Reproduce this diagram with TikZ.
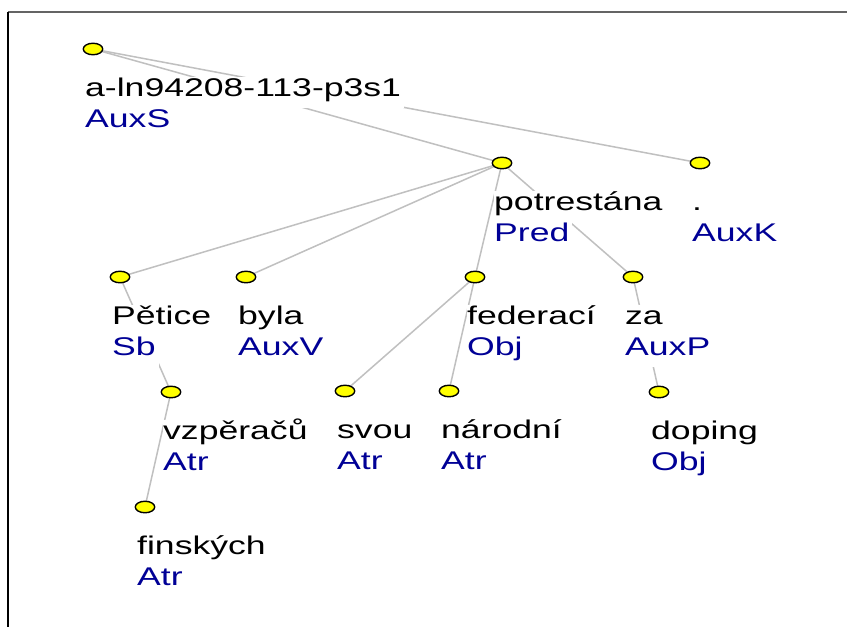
\documentclass[tikz,border=0pt]{standalone}
\usepackage{fontspec}
\setmainfont{Liberation Sans}[FakeStretch=1.39]
\usetikzlibrary{shapes.geometric,backgrounds}
\definecolor{edgegray}{RGB}{192,192,192}
\definecolor{funcblue}{RGB}{0,0,150}
\definecolor{nodeyellow}{RGB}{255,255,0}
\definecolor{framegray}{RGB}{100,100,100}
\tikzset{
  tnode/.style={ellipse, draw=black, line width=1.4pt, fill=nodeyellow,
    minimum width=19.5pt, minimum height=11.5pt, inner sep=0pt},
  wordlabel/.style={anchor=base west, fill=white, inner xsep=0pt, inner ysep=0pt,
    text height=19pt, text depth=12pt, font=\fontsize{25.6}{31}\selectfont, text=black},
  funclabel/.style={wordlabel, text=funcblue},
  treeedge/.style={draw=edgegray, line width=1.5pt},
}
\newcommand\treenode[5]{%
  \node[wordlabel] (#1w) at (#2-8,#3+47) {#4\kern3pt};
  \node[funclabel] (#1f) at (#2-8,#3+78) {#5\kern3pt};
  \node[tnode] (#1) at (#2,#3) {};
}
\begin{document}
\begin{tikzpicture}[x=1pt,y=-1pt]
\useasboundingbox (0,0) rectangle (847,627);
\begin{scope}[on background layer]
\fill[white] (0,0) rectangle (847,627);
\end{scope}
\draw[framegray, line width=1.5pt] (8,12) -- (847,12);
\draw[black, line width=1.2pt] (8,12) -- (8,627);

\treenode{root}{93}{49}{a-ln94208-113-p3s1}{AuxS}
\treenode{pot}{502}{163}{potrestána}{Pred}
\treenode{dot}{700}{163}{.}{AuxK}
\treenode{pet}{120}{277}{Pětice}{Sb}
\treenode{byla}{246}{277}{byla}{AuxV}
\treenode{fed}{475}{277}{federací}{Obj}
\treenode{za}{633}{277}{za}{AuxP}
\treenode{vzp}{171}{392}{vzpěračů}{Atr}
\treenode{svou}{345}{391}{svou}{Atr}
\treenode{nar}{449}{391}{národní}{Atr}
\treenode{dop}{659}{392}{doping}{Obj}
\treenode{fin}{145}{507}{finských}{Atr}

\begin{scope}[on background layer]
\draw[treeedge] (root.center) -- (pot.center);
\draw[treeedge] (root.center) -- (dot.center);
\draw[treeedge] (pot.center) -- (pet.center);
\draw[treeedge] (pot.center) -- (byla.center);
\draw[treeedge] (pot.center) -- (fed.center);
\draw[treeedge] (pot.center) -- (za.center);
\draw[treeedge] (pet.center) -- (vzp.center);
\draw[treeedge] (fed.center) -- (svou.center);
\draw[treeedge] (fed.center) -- (nar.center);
\draw[treeedge] (za.center) -- (dop.center);
\draw[treeedge] (vzp.center) -- (fin.center);
\end{scope}
\end{tikzpicture}
\end{document}
